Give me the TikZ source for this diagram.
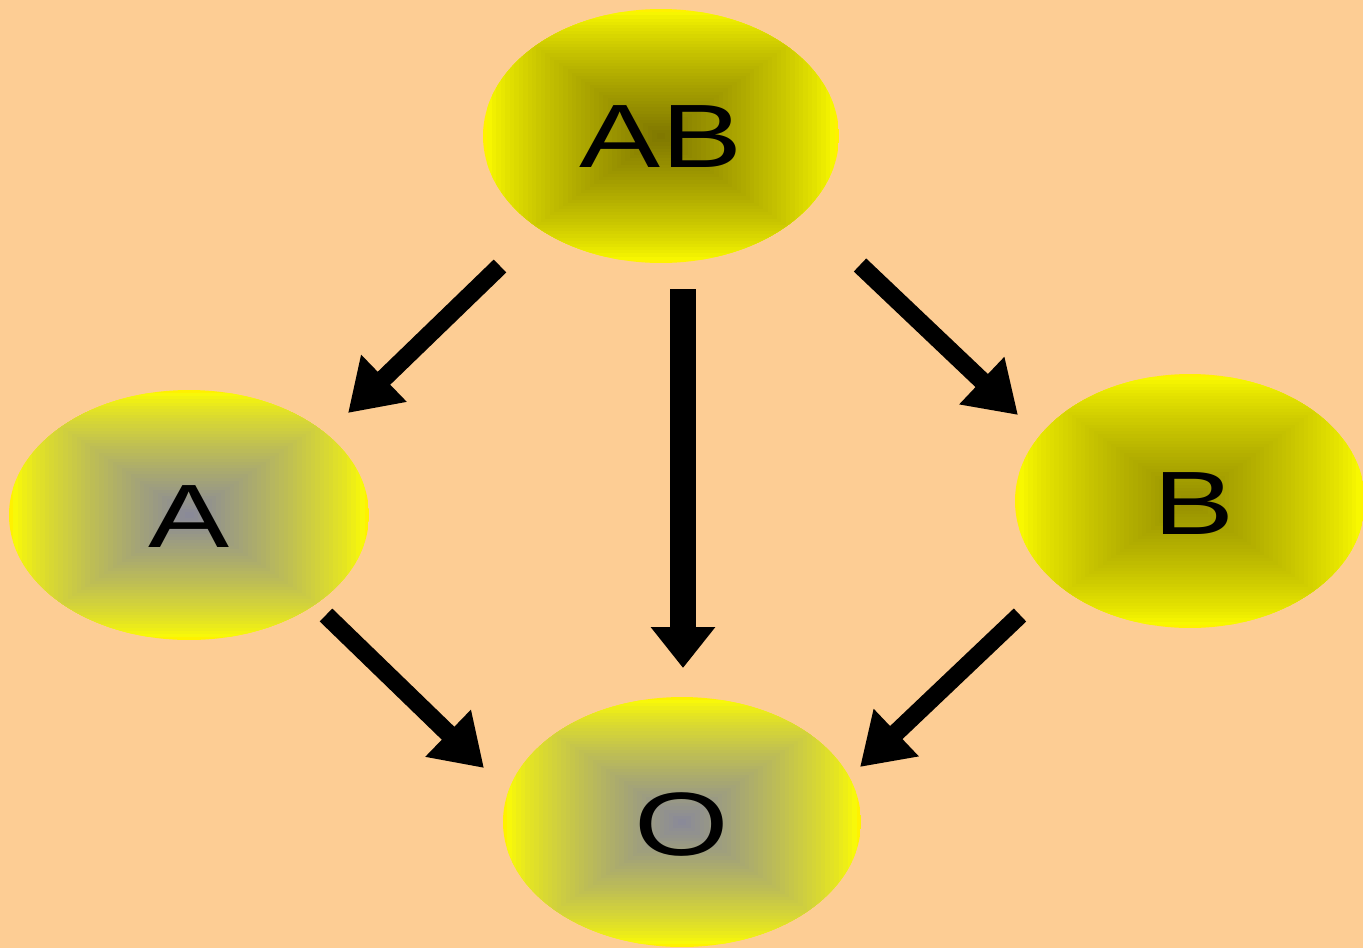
\documentclass[tikz,border=0pt]{standalone}
\usepackage{fontspec}
\setmainfont{Liberation Sans}
\usetikzlibrary{arrows.meta,shapes.geometric}

\definecolor{peach}{RGB}{253,205,148}
\definecolor{olivecore}{RGB}{128,120,0}
\definecolor{greycore}{RGB}{138,138,152}
\definecolor{bcore}{RGB}{150,144,0}

% rectangular (box) gradient from yellow rim to a dark core, clipped to an ellipse
\newcommand{\boxgradient}[5]{%
  \begin{scope}
    \clip (#1,#2) ellipse [x radius=#3, y radius=#4];
    \foreach \k in {0,...,39}{
      \pgfmathsetmacro{\fr}{\k/40}
      \pgfmathsetmacro{\pc}{100*(\k/39)^0.75}
      \fill[#5!\pc!yellow]
        ({#1-#3*(1-\fr)},{#2-#4*(1-\fr)}) rectangle ({#1+#3*(1-\fr)},{#2+#4*(1-\fr)});
    }
  \end{scope}}

\tikzset{
  blob/.style={ellipse, inner sep=0pt, font=\fontsize{45}{50}\selectfont},
  thinarrow/.style={line width=9pt, -{Triangle[length=25pt, width=31pt]}},
  thickarrow/.style={line width=13pt, -{Triangle[length=20.5pt, width=31pt]}},
}

\begin{document}
\begin{tikzpicture}[x=0.5pt, y=-0.5pt]
  \fill[peach] (0,0) rectangle (1363,948);
  \useasboundingbox (0,0) rectangle (1363,948);

  % filled ovals
  \boxgradient{661}{136}{178}{127}{olivecore}
  \boxgradient{189}{515}{180}{125}{greycore}
  \boxgradient{1190}{501}{175}{127}{bcore}
  \boxgradient{682}{822}{179}{125}{greycore}

  % labels
  \node[blob, minimum width=178pt, minimum height=127pt] (AB) at (661,137) {\scalebox{1.35}[1]{AB}};
  \node[blob, minimum width=180pt, minimum height=125pt] (A) at (189,517) {\scalebox{1.35}[1]{A}};
  \node[blob, minimum width=175pt, minimum height=127pt] (B) at (1194,504) {\scalebox{1.35}[1]{B}};
  \node[blob, minimum width=179pt, minimum height=125pt] (O) at (682,825) {\scalebox{1.35}[1]{O}};

  % arrow end points
  \coordinate (ABa) at (500,266);
  \coordinate (Ain) at (348,413);
  \coordinate (ABo) at (683,289);
  \coordinate (Oin) at (683,668);
  \coordinate (ABb) at (860,265);
  \coordinate (Bin) at (1018,415);
  \coordinate (Aout) at (326,615);
  \coordinate (OinA) at (484,768);
  \coordinate (Bout) at (1020,615);
  \coordinate (OinB) at (860,767);

  % connectors
  \draw[thinarrow] (ABa) -- (Ain);
  \draw[thickarrow] (ABo) -- (Oin);
  \draw[thinarrow] (ABb) -- (Bin);
  \draw[thinarrow] (Aout) -- (OinA);
  \draw[thinarrow] (Bout) -- (OinB);
\end{tikzpicture}
\end{document}
